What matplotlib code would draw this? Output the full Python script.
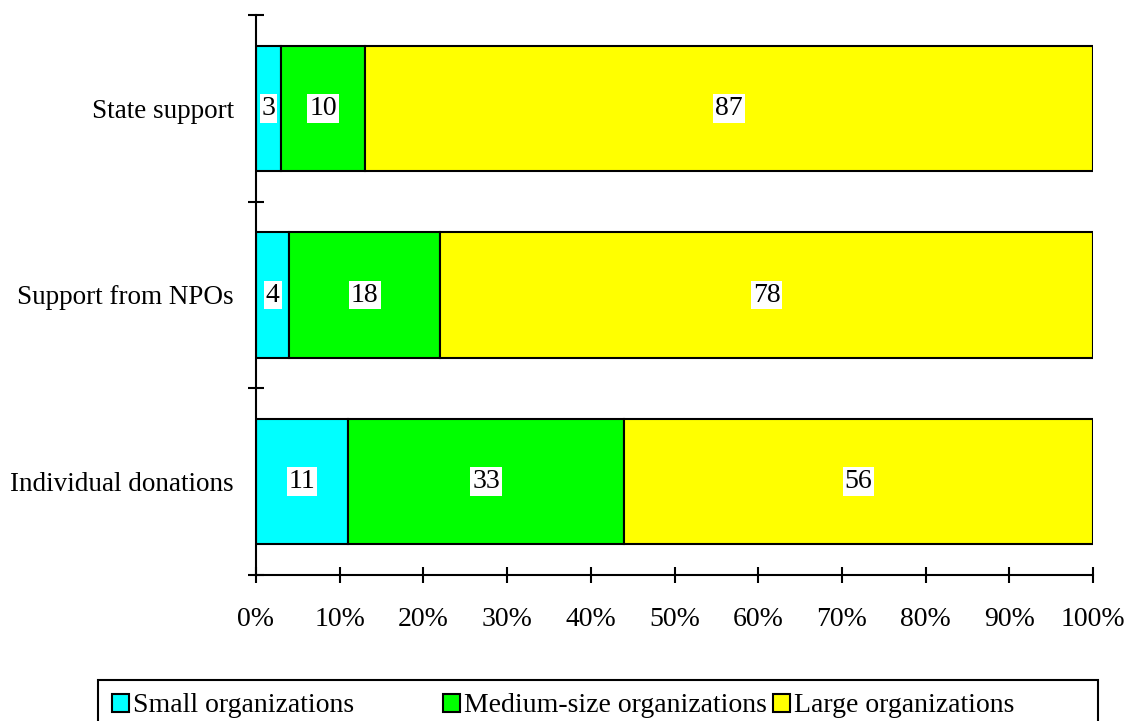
import matplotlib.pyplot as plt
from matplotlib.patches import Rectangle, Patch
import numpy as np

plt.rcParams['font.family'] = ['Liberation Serif', 'DejaVu Serif']

# funding sources, bottom to top
sources = ["Individual donations", "Support from NPOs", "State support"]
small = [11, 4, 3]
medium = [33, 18, 10]
large = [56, 78, 87]

series_names = ["Small organizations", "Medium-size organizations", "Large organizations"]
colors = ["#00ffff", "#00ff00", "#ffff00"]
xticks = [0, 10, 20, 30, 40, 50, 60, 70, 80, 90, 100]

W, H = 1127, 721
fig = plt.figure(figsize=(W / 100, H / 100), dpi=100)
ax = fig.add_axes([256 / W, 1 - 575 / H, (1093 - 256) / W, (575 - 15) / H])

y = np.arange(len(sources))
left = np.zeros(len(sources))
for vals, col in zip([small, medium, large], colors):
    vals = np.array(vals, dtype=float)
    ax.barh(y, vals, left=left, height=0.67, color=col, edgecolor="black", linewidth=1.5)
    for yi, l, v in zip(y, left, vals):
        ax.text(l + v / 2, yi, f"{int(v)}", ha="center", va="center", fontsize=20,
                bbox=dict(facecolor="white", edgecolor="none", pad=1.5))
    left += vals

ax.set_xlim(0, 100)
ax.set_ylim(-0.5, len(sources) - 0.5)

ax.set_xticks(xticks)
ax.set_xticklabels([f"{t}%" for t in xticks], fontsize=20)
ax.set_yticks(np.arange(-0.5, len(sources), 1.0))
ax.set_yticklabels([])
ax.set_yticks(y, minor=True)
ax.set_yticklabels(sources, minor=True, fontsize=19.5)

ax.tick_params(axis="both", which="major", direction="inout", length=12, width=1.5)
ax.tick_params(axis="x", which="major", pad=17)
ax.tick_params(axis="y", which="minor", length=0, pad=16)

for s in ["top", "right"]:
    ax.spines[s].set_visible(False)
for s in ["left", "bottom"]:
    ax.spines[s].set_linewidth(1.5)

# legend: evenly spaced entries inside one box running off the bottom edge
fig.patches.append(Rectangle((98 / W, -0.05), 1000 / W, (H - 680) / H + 0.05,
                             transform=fig.transFigure, fill=False,
                             edgecolor="black", linewidth=1.5))
for name, col, xm in zip(series_names, colors, [112, 443, 773]):
    fig.legend(handles=[Patch(facecolor=col, edgecolor="black", linewidth=1.5)],
               labels=[name], loc="center left",
               bbox_to_anchor=(xm / W, 1 - 706 / H), fontsize=20,
               frameon=False, borderpad=0, borderaxespad=0,
               handlelength=0.6, handleheight=0.6, handletextpad=0.15)

fig.savefig("out.png", dpi=100)
